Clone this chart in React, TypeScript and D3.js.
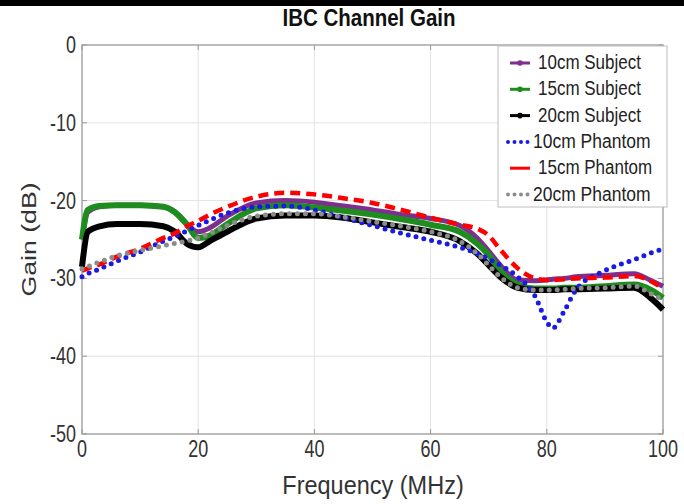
import React from 'react';
import * as d3 from 'd3';

// frequency points (MHz) shared by all series
const FREQ = [0, 1, 3, 6, 10, 14, 16, 18, 20, 22, 25, 30, 35, 40, 45, 50, 55, 60, 65, 68, 70, 72, 75, 78, 80, 81, 83, 85, 90, 95, 98, 100];

const sub10 = [-25, -21.5, -20.8, -20.6, -20.6, -20.8, -21.5, -23, -24, -23.5, -22, -20.3, -20, -20.2, -20.7, -21.2, -21.8, -22.3, -23.2, -24.8, -26.5, -28.3, -30.2, -30.3, -30.2, -30.1, -30, -29.8, -29.6, -29.4, -30.3, -31];
const sub15 = [-25, -21.2, -20.7, -20.6, -20.6, -20.8, -21.5, -23, -24.8, -24.5, -23, -21, -20.6, -20.9, -21.3, -21.8, -22.4, -23.1, -24, -25.5, -27, -29, -30.8, -31.3, -31.3, -31.3, -31.2, -31.2, -31, -30.8, -31.5, -32.5];
const sub20 = [-28.5, -24, -23.3, -23, -23, -23.3, -24, -25.5, -26, -25.2, -24, -22.3, -21.9, -21.9, -22.2, -22.8, -23.4, -24, -25.2, -26.8, -28.3, -29.8, -31.2, -31.5, -31.5, -31.5, -31.4, -31.4, -31.3, -31.2, -32.6, -34];
const ph10 = [-29.8, -29.4, -28.8, -27.8, -26.6, -25.2, -24.6, -23.9, -23.2, -22.5, -21.6, -20.8, -20.7, -21.2, -22.2, -23.2, -24.2, -25.1, -26, -26.8, -27.5, -28.3, -29.8, -32.3, -35.6, -36.4, -34.2, -31.5, -29, -27.6, -26.7, -26.2];
const ph15 = [-29, -28.7, -28.2, -27.2, -26.2, -24.8, -24.2, -23.3, -22.6, -21.8, -20.8, -19.5, -19, -19.2, -19.7, -20.3, -21.2, -22.2, -23.1, -23.6, -24.5, -26.3, -28.7, -30, -30.2, -30.2, -30.1, -30, -29.9, -29.7, -30.4, -31.3];
const ph20 = [-28.8, -28.5, -27.9, -27.1, -26.4, -25.8, -25.5, -25.2, -24.8, -24.2, -23.2, -22, -21.7, -21.7, -22.1, -22.7, -23.3, -24, -25.2, -26.8, -28.3, -29.8, -31.2, -31.5, -31.5, -31.5, -31.4, -31.3, -31.2, -31, -32, -32.8];

const X_TICKS = [0, 20, 40, 60, 80, 100];
const Y_TICKS = [0, -10, -20, -30, -40, -50];

const SERIES = [
  { name: '10cm Subject', values: sub10, color: '#7E2F8E', width: 5, dash: '' },
  { name: '15cm Subject', values: sub15, color: '#1E8C1E', width: 6, dash: '' },
  { name: '20cm Subject', values: sub20, color: '#000000', width: 6, dash: '' },
  { name: '10cm Phantom', values: ph10, color: '#1A1AE6', width: 5, dash: '0 8' },
  { name: '15cm Phantom', values: ph15, color: '#FF0000', width: 4.5, dash: '10 6' },
  { name: '20cm Phantom', values: ph20, color: '#8C8C8C', width: 5, dash: '0 8' },
];

const W = 684;
const H = 504;

// text stretched vertically like the source image
const T = ({ x, y, sy = 1.25, children, ...rest }: any) => (
  <text transform={`translate(${x},${y}) scale(1,${sy})`} {...rest}>{children}</text>
);

export default function App() {
  const x = d3.scaleLinear().domain([0, 100]).range([82, 663]);
  const y = d3.scaleLinear().domain([-50, 0]).range([434, 45]);

  const line = d3.line<number>()
    .x((_, i) => x(FREQ[i]))
    .y((d) => y(d))
    .curve(d3.curveMonotoneX);

  const font = '"Liberation Sans", Arial, sans-serif';
  const legX = 498;
  const legY = 46;

  return (
    <svg width={W} height={H} style={{ position: 'absolute', left: 0, top: 0, background: '#fff' }} fontFamily={font}>
      <rect x={0} y={0} width={W} height={6} fill="#000" />

      {/* grid */}
      {X_TICKS.map((t) => (
        <line key={'gx' + t} x1={x(t)} x2={x(t)} y1={y(0)} y2={y(-50)} stroke="#e3e3e3" strokeWidth={1} />
      ))}
      {Y_TICKS.map((t) => (
        <line key={'gy' + t} x1={x(0)} x2={x(100)} y1={y(t)} y2={y(t)} stroke="#e3e3e3" strokeWidth={1} />
      ))}

      {/* box */}
      <rect x={x(0)} y={y(0)} width={x(100) - x(0)} height={y(-50) - y(0)} fill="none" stroke="#9a9a9a" strokeWidth={1.2} />
      {X_TICKS.map((t) => (
        <g key={'xt' + t}>
          <line x1={x(t)} x2={x(t)} y1={y(-50)} y2={y(-50) - 5} stroke="#9a9a9a" />
          <line x1={x(t)} x2={x(t)} y1={y(0)} y2={y(0) + 5} stroke="#9a9a9a" />
          <T x={x(t)} y={y(-50) + 23} sy={1.3} textAnchor="middle" fontSize={18} fill="#333">{t}</T>
        </g>
      ))}
      {Y_TICKS.map((t) => (
        <g key={'yt' + t}>
          <line x1={x(0)} x2={x(0) + 5} y1={y(t)} y2={y(t)} stroke="#9a9a9a" />
          <line x1={x(100)} x2={x(100) - 5} y1={y(t)} y2={y(t)} stroke="#9a9a9a" />
          <T x={x(0) - 6} y={y(t) + 8} sy={1.3} textAnchor="end" fontSize={18} fill="#333">{t}</T>
        </g>
      ))}

      {/* series */}
      {SERIES.map((s) => (
        <path key={s.name} d={line(s.values) || ''} fill="none" stroke={s.color} strokeWidth={s.width}
          strokeDasharray={s.dash || undefined} strokeLinecap={s.dash.startsWith('0') ? 'round' : 'butt'} strokeLinejoin="round" />
      ))}

      {/* legend */}
      <rect x={legX} y={legY} width={169} height={161} fill="#fff" stroke="#bdbdbd" strokeWidth={1} />
      {SERIES.map((s, i) => {
        const ly = legY + 17 + i * 26.3;
        const dotted = s.dash.startsWith('0');
        return (
          <g key={'lg' + s.name}>
            <line x1={dotted ? legX + 10 : legX + 12} x2={legX + 32} y1={ly} y2={ly} stroke={s.color}
              strokeWidth={dotted ? 4 : 3}
              strokeDasharray={dotted ? '0 6.5' : undefined}
              strokeLinecap={dotted ? 'round' : 'butt'} />
            {!s.dash && <circle cx={legX + 22} cy={ly} r={2.8} fill={s.color} />}
            <T x={dotted ? legX + 35 : legX + 40} y={ly + 6} sy={1.15} fontSize={dotted ? 17.5 : 17} fill="#222">{s.name}</T>
          </g>
        );
      })}

      {/* labels */}
      <T x={369} y={26} sy={1.15} textAnchor="middle" fontSize={20.5} fontWeight="bold" fill="#111">IBC Channel Gain</T>
      <T x={373} y={494} sy={1.12} textAnchor="middle" fontSize={23.5} fill="#333">Frequency (MHz)</T>
      <text transform={`translate(36,${(y(0) + y(-50)) / 2}) rotate(-90) scale(1.27,1)`} textAnchor="middle" fontSize={21} fill="#333">Gain (dB)</text>
    </svg>
  );
}
